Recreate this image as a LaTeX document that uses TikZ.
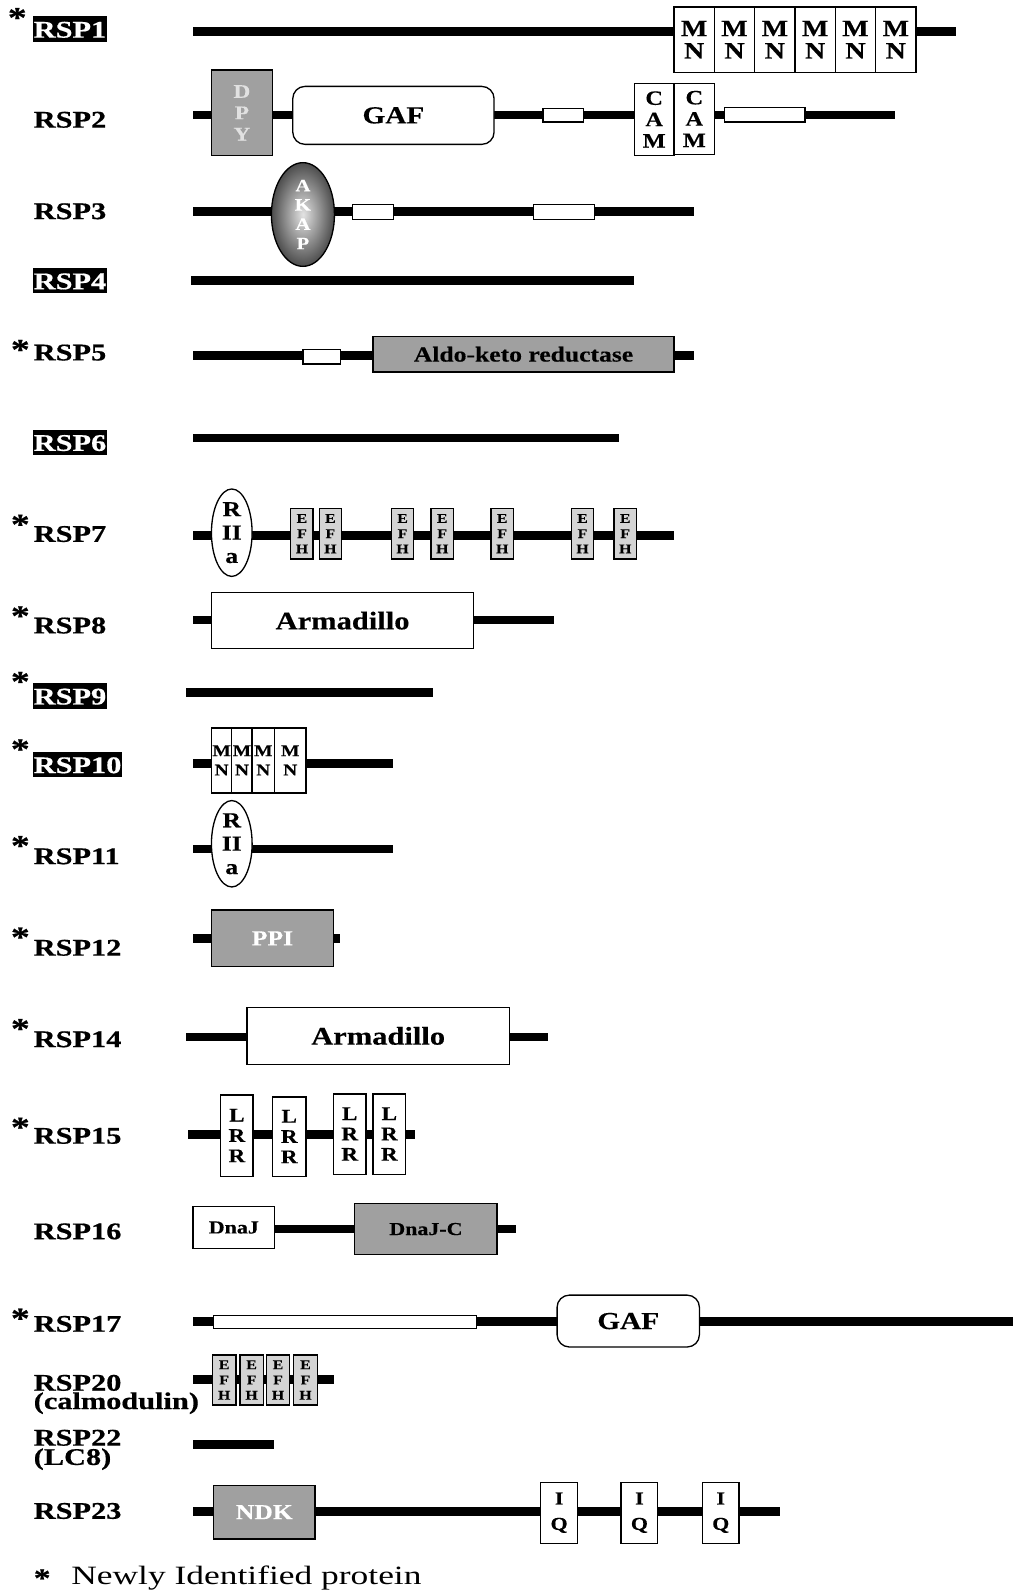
\documentclass[tikz,border=0pt]{standalone}
\usepackage{fontspec}
\setmainfont{Liberation Serif}
\newfontfamily\labfont[FakeStretch=1.27, FakeBold=0.6]{Liberation Serif}
\newfontfamily\domfont[FakeStretch=1.2, FakeBold=0.3]{Liberation Serif}
\newfontfamily\notefont[FakeStretch=1.34]{Liberation Serif}
\usetikzlibrary{shapes.geometric}
\definecolor{dgray}{RGB}{160,160,160}
\definecolor{lgray}{RGB}{212,212,212}
\definecolor{ltext}{RGB}{225,225,225}
\newcommand\fs[2]{\fontsize{#1}{#2}\selectfont}
% box macro: name, x1, y1, x2, y2, style, text
\newcommand\bx[7]{\node[#6, minimum width={(#4)-(#2)}, minimum height={(#5)-(#3)}] (#1) at ({((#2)+(#4))/2},{((#3)+(#5))/2}) {#7};}
\tikzset{
  backbone/.style={line width=8.5pt, line cap=butt},
  dom/.style={draw, line width=1.3pt, fill=white, inner sep=0pt, align=center, font=\domfont\bfseries},
  grayd/.style={dom, fill=dgray},
  smallrect/.style={dom},
  mnbox/.style={dom, font=\domfont\bfseries\fs{23}{22}},
  mnsmall/.style={dom, font=\domfont\bfseries\fs{16}{19}},
  cambox/.style={dom, font=\domfont\bfseries\fs{20}{21}},
  efhbox/.style={dom, fill=lgray, font=\domfont\bfseries\fs{13}{15}},
  lrrbox/.style={dom, font=\domfont\bfseries\fs{19}{20}},
  iqbox/.style={dom, font=\domfont\bfseries\fs{18}{25}},
  gafbox/.style={dom, rounded corners=12pt, font=\domfont\bfseries\fs{24}{24}},
  armbox/.style={dom, font=\domfont\bfseries\fs{25}{25}},
  riia/.style={dom, ellipse, font=\domfont\bfseries\fs{21}{23}},
  lab/.style={anchor=base west, inner sep=0pt, font=\labfont\bfseries\fs{23.5}{23.5}},
  blab/.style={anchor=base west, fill=black, text=white, inner xsep=1pt, inner ysep=1pt, text height=20pt, text depth=3pt, font=\labfont\bfseries\fs{23.5}{23.5}},
  ast/.style={anchor=base, inner sep=0pt, font=\labfont\bfseries\fs{29}{29}},
}
\begin{document}
\begin{tikzpicture}[x=1pt, y=-1pt]
\useasboundingbox[fill=white] (0,0) rectangle (996,1568);

% ---------- RSP1
\node[ast] (a1) at (17,27) {*};
\node[blab] (l1) at (32,37) {RSP1};
\draw[backbone] (190,31) -- (940,31);
\foreach \i in {0,...,5}{
  \bx{mn\i}{663+\i*39.67}{7}{702.67+\i*39.67}{71}{mnbox}{M\\N}
}

% ---------- RSP2
\node[lab] (l2) at (33,125.5) {RSP2};
\draw[backbone] (190,113) -- (880,113);
\bx{dpy}{208}{69}{268}{153}{grayd, text=ltext, font=\domfont\bfseries\fs{19}{21}}{D\\P\\Y}
\bx{gaf2}{288}{85}{486}{142}{gafbox}{GAF}
\bx{r2a}{534}{107}{574}{120}{smallrect}{}
\bx{cam1}{624}{82}{663}{153}{cambox}{C\\A\\M}
\bx{cam2}{663}{82}{703}{152}{cambox}{C\\A\\M}
\bx{r2b}{713}{106}{792}{120}{smallrect}{}

% ---------- RSP3
\node[lab] (l3) at (33,215.5) {RSP3};
\draw[backbone] (190,208) -- (683,208);
\node[ellipse, draw, line width=1.3pt, inner sep=0pt, minimum width=62, minimum height=102,
      inner color=gray!22, outer color=gray!60!black, text=white, align=center,
      font=\domfont\bfseries\fs{17}{19}] (akap) at (298,211) {A\\K\\A\\P};
\bx{r3a}{347}{201}{387}{216}{smallrect}{}
\bx{r3b}{525}{201}{585}{216}{smallrect}{}

% ---------- RSP4
\node[blab] (l4) at (32,284.5) {RSP4};
\draw[backbone] (188,276) -- (624,276);

% ---------- RSP5
\node[ast] (a5) at (20,353.5) {*};
\node[lab] (l5) at (33,354.5) {RSP5};
\draw[backbone] (190,350) -- (683,350);
\bx{r5}{298}{344}{335}{358}{smallrect}{}
\bx{ald}{367}{331}{663}{366}{grayd, font=\domfont\bfseries\fs{21}{21}}{Aldo-keto reductase}

% ---------- RSP6
\node[blab] (l6) at (32,443.5) {RSP6};
\draw[backbone] (190,431) -- (609,431);

% ---------- RSP7
\node[ast] (a7) at (20,525.5) {*};
\node[lab] (l7) at (33,533) {RSP7};
\draw[backbone] (190,527) -- (663,527);
\node[riia, minimum width=40, minimum height=86] (riia7) at (228,524) {R\\II\\a};
\foreach \x [count=\k] in {286,314,385,424,483,562,604}{
  \bx{efh7\k}{\x}{500}{\x+22}{550}{efhbox}{E\\F\\H}
}

% ---------- RSP8
\node[ast] (a8) at (20,615.5) {*};
\node[lab] (l8) at (33,623) {RSP8};
\draw[backbone] (190,610) -- (545,610);
\bx{arm8}{208}{583}{466}{638}{armbox}{Armadillo}

% ---------- RSP9
\node[ast] (a9) at (20,680) {*};
\node[blab] (l9) at (32,693) {RSP9};
\draw[backbone] (183,681) -- (426,681);

% ---------- RSP10
\node[ast] (a10) at (20,746.5) {*};
\node[blab] (l10) at (32,760.5) {RSP10};
\draw[backbone] (190,751) -- (387,751);
\bx{mn10a}{208}{716}{228}{780}{mnsmall}{M\\N}
\bx{mn10b}{228}{716}{248}{780}{mnsmall}{M\\N}
\bx{mn10c}{248}{716}{270}{780}{mnsmall}{M\\N}
\bx{mn10d}{270}{716}{301}{780}{mnsmall}{M\\N}

% ---------- RSP11
\node[ast] (a11) at (20,841.5) {*};
\node[lab] (l11) at (33,850) {RSP11};
\draw[backbone] (190,835) -- (387,835);
\node[riia, minimum width=40, minimum height=85] (riia11) at (228,830) {R\\II\\a};

% ---------- RSP12
\node[ast] (a12) at (20,931.5) {*};
\node[lab] (l12) at (33,940) {RSP12};
\draw[backbone] (190,923) -- (334,923);
\bx{ppi}{208}{895}{328}{951}{grayd, text=white, font=\domfont\bfseries\fs{21}{21}}{PPI}

% ---------- RSP14
\node[ast] (a14) at (20,1021.5) {*};
\node[lab] (l14) at (33,1030) {RSP14};
\draw[backbone] (183,1020) -- (539,1020);
\bx{arm14}{243}{991}{501}{1047}{armbox}{Armadillo}

% ---------- RSP15
\node[ast] (a15) at (20,1118.5) {*};
\node[lab] (l15) at (33,1125) {RSP15};
\draw[backbone] (185,1116) -- (408,1116);
\bx{lrr1}{217}{1077}{249}{1157}{lrrbox}{L\\R\\R}
\bx{lrr2}{268}{1079}{301}{1157}{lrrbox}{L\\R\\R}
\bx{lrr3}{328}{1076}{360}{1155}{lrrbox}{L\\R\\R}
\bx{lrr4}{367}{1076}{399}{1155}{lrrbox}{L\\R\\R}

% ---------- RSP16
\node[lab] (l16) at (33,1219) {RSP16};
\draw[backbone] (190,1209) -- (508,1209);
\bx{dnaj}{190}{1187}{270}{1228}{dom, font=\domfont\bfseries\fs{18}{18}}{DnaJ}
\bx{dnajc}{349}{1184}{489}{1234}{grayd, font=\domfont\bfseries\fs{18}{18}}{DnaJ-C}

% ---------- RSP17
\node[ast] (a17) at (20,1306.5) {*};
\node[lab] (l17) at (33,1310) {RSP17};
\draw[backbone] (190,1300) -- (996,1300);
\bx{r17}{210}{1294}{469}{1307}{smallrect}{}
\bx{gaf17}{548}{1274}{688}{1325}{gafbox}{GAF}

% ---------- RSP20
\node[lab] (l20) at (33,1368) {RSP20};
\node[lab] (l20b) at (33,1386) {(calmodulin)};
\draw[backbone] (190,1357) -- (329,1357);
\foreach \x [count=\k] in {209,236,262,289}{
  \bx{efh20\k}{\x}{1333}{\x+23}{1382}{efhbox}{E\\F\\H}
}

% ---------- RSP22
\node[lab] (l22) at (33,1422) {RSP22};
\node[lab] (l22b) at (33,1441) {(LC8)};
\draw[backbone] (190,1421) -- (270,1421);

% ---------- RSP23
\node[lab] (l23) at (33,1494) {RSP23};
\draw[backbone] (190,1487) -- (767,1487);
\bx{ndk}{210}{1461}{310}{1514}{grayd, text=white, font=\domfont\bfseries\fs{21}{21}}{NDK}
\bx{iq1}{532}{1458}{568}{1518}{iqbox}{I\\Q}
\bx{iq2}{611}{1458}{647}{1518}{iqbox}{I\\Q}
\bx{iq3}{691}{1458}{727}{1518}{iqbox}{I\\Q}

% ---------- footnote
\node[anchor=base, inner sep=0pt, font=\labfont\bfseries\fs{26}{26}] (fa) at (41.5,1561) {*};
\node[anchor=base west, inner sep=0pt, font=\notefont\fs{26}{26}] (fn) at (70,1559) {Newly Identified protein};
\end{tikzpicture}
\end{document}
